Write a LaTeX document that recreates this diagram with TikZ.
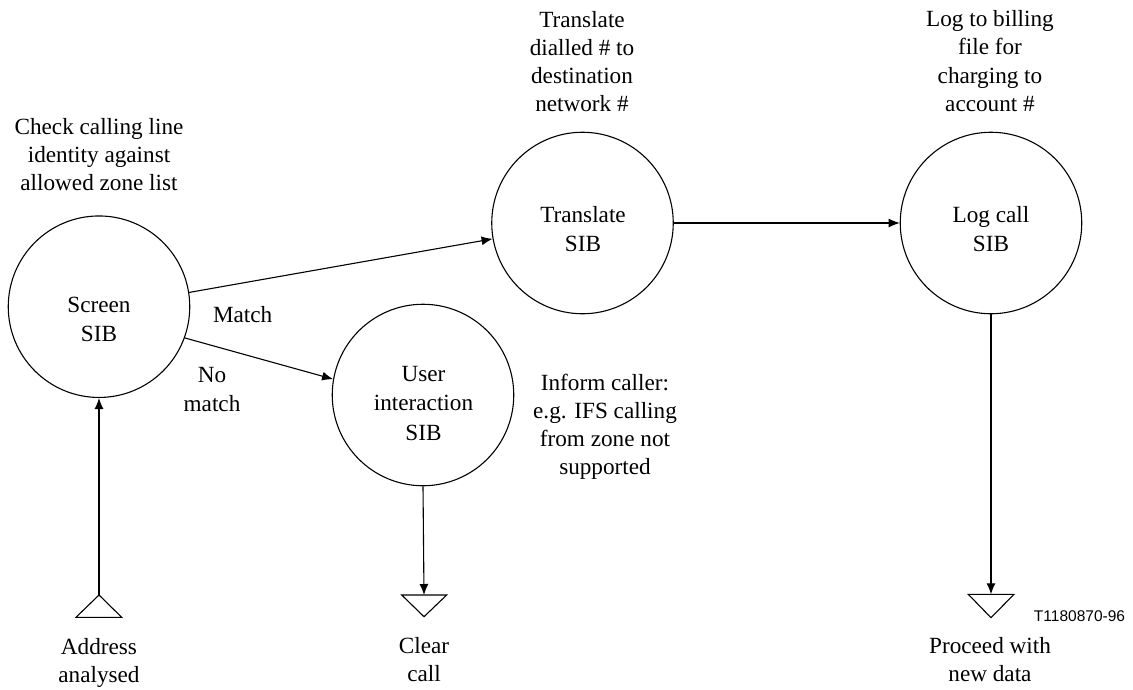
\documentclass[tikz,border=0pt]{standalone}
\usepackage{fontspec}
\setmainfont{Liberation Serif}
\newfontfamily\tnr{Liberation Serif}
\newfontfamily\labelsans{Liberation Sans}
\usetikzlibrary{arrows.meta}
\newcommand\lines[1]{\begin{tabular}[t]{@{}c@{}}#1\end{tabular}}
\renewcommand\arraystretch{1}
\begin{document}
\begin{tikzpicture}[x=1pt,y=-1pt,
  sib/.style={draw,circle,line width=1.1pt,minimum size=181.5pt,inner sep=0pt},
  txt/.style={anchor=base,inner sep=0pt,font=\tnr\fontsize{23.2}{28.2}\selectfont},
  intxt/.style={anchor=base,inner sep=0pt,font=\tnr\fontsize{23.2}{29.2}\selectfont},
  conn/.style={line width=1.1pt,-{Latex[length=11pt,width=9pt]}},
  term/.style={line width=1.1pt,line join=miter}]
\useasboundingbox (0,0) rectangle (1133,689);
% circles
\node[sib] (S) at (99,306.7) {};
\node[sib] (T) at (582.5,223) {};
\node[sib] (L) at (991,223) {};
\node[sib] (U) at (423,395) {};
\node[intxt] (S-t) at (99,312) {\lines{Screen\\SIB}};
\node[intxt] (T-t) at (583,222.7) {\lines{Translate\\SIB}};
\node[intxt] (L-t) at (991,222.7) {\lines{Log call\\SIB}};
\node[intxt] (U-t) at (423.5,381.7) {\lines{User\\interaction\\SIB}};
% terminals
\draw[term] (76,617.3) -- (99,595) -- (121.7,617.3) -- cycle;
\coordinate (A) at (99,595);
\draw[term] (401.7,595) -- (446.7,595) -- (424,616.7) -- cycle;
\coordinate (C) at (424,595);
\draw[term] (968.3,594.3) -- (1014,594.3) -- (991,617.7) -- cycle;
\coordinate (P) at (991,594.3);
% connectors
\draw[conn] (S.9.2) -- (T.190);
\draw[conn] (S.-20.8) -- (U.170.5);
\draw[conn] (T.east) -- (L.west);
\draw[conn] (A) -- (S.south);
\draw[conn] (U.south) -- (C);
\draw[conn] (L.south) -- (P);
% texts
\node[txt] (t1) at (99,134) {\lines{Check calling line\\identity against\\allowed zone list}};
\node[txt] (t2) at (582,27) {\lines{Translate\\dialled \# to\\destination\\network \#}};
\node[txt] (t3) at (990,26.7) {\lines{Log to billing\\file for\\charging to\\account \#}};
\node[txt] (t4) at (605,390) {\lines{Inform caller:\\e.g. IFS calling\\from zone not\\supported}};
\node[txt] (m) at (242.7,322.7) {Match};
\node[intxt] (nm) at (212,382) {\lines{No\\match}};
\node[txt] (cc) at (424,653) {\lines{Clear\\call}};
\node[txt] (aa) at (99,654) {\lines{Address\\analysed}};
\node[txt] (pw) at (990,653.3) {\lines{Proceed with\\new data}};
\node[anchor=base,inner sep=0pt,font=\labelsans\fontsize{15.5}{18}\selectfont] (id) at (1079.5,621.7) {T1180870-96};
\end{tikzpicture}
\end{document}
